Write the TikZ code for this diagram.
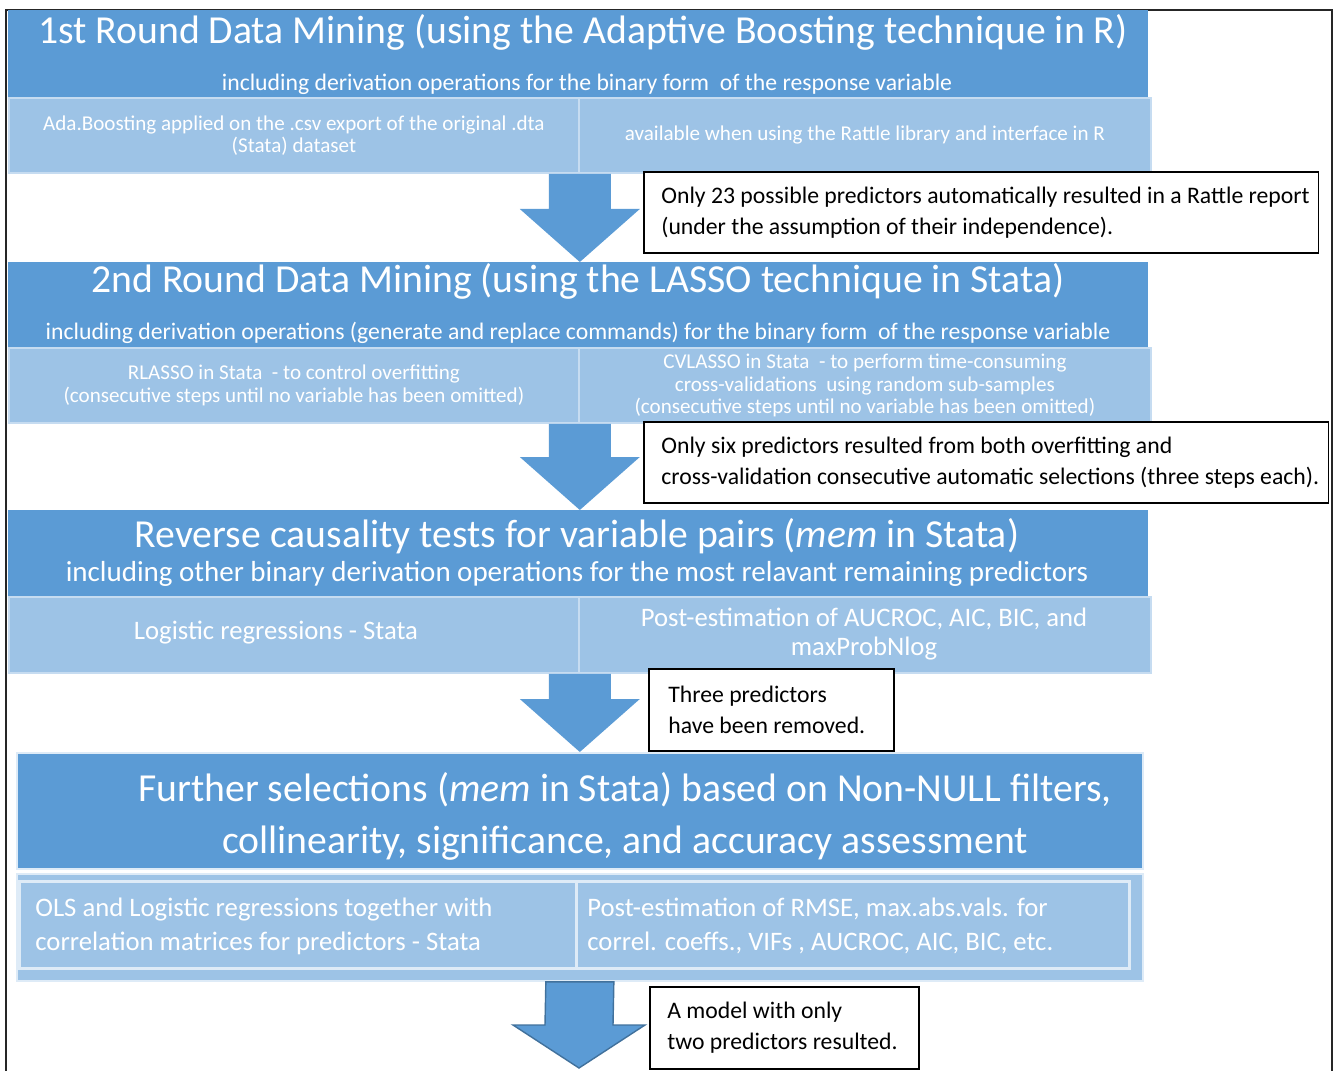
\documentclass[tikz,border=0pt]{standalone}
\usepackage{fontspec}
\setmainfont{Carlito}
\usepackage{xcolor}
\usetikzlibrary{
		calc,
		positioning
	}
\definecolor{headblue}{HTML}{5B9BD5}
\definecolor{rowblue}{HTML}{9DC3E6}
\definecolor{rowline}{HTML}{C6DCF1}
\definecolor{paleline}{HTML}{DEEBF7}
\definecolor{arrowline}{HTML}{41719C}
\tikzset{
		>=stealth,
		headbox/.style={fill=headblue,anchor=north west,inner sep=0pt},
		rowbox/.style={fill=rowblue,draw=rowline,line width=1.1pt,anchor=north west,inner sep=0pt},
		notebox/.style={fill=white,draw=black,line width=0.9pt,anchor=north west,inner sep=0pt},
		titletext/.style={text=white,inner sep=0pt,align=center,font=\fontsize{22.6}{29.5}\selectfont},
		subtext/.style={text=white,inner sep=0pt,font=\fontsize{13.5}{15}\selectfont},
		celltext/.style={text=white,inner sep=0pt,align=center,font=\fontsize{12}{12.8}\selectfont},
		bigcell/.style={text=white,inner sep=0pt,align=center,font=\fontsize{15.2}{17}\selectfont},
		notetext/.style={inner sep=0pt,align=left,font=\fontsize{13.5}{17.6}\selectfont}
	}

\begin{document}
\begin{tikzpicture}[x=0.02cm,y=-0.02cm]
          \useasboundingbox (0,0) rectangle (1335,1071);

          % outer frame, open at the bottom
          \draw[line width=1.1pt,black!85] (6,1080) -- (6,10) -- (1332,10) -- (1332,1080);

          % first round: AdaBoost in R
          \node[headbox,minimum width=22.8cm,minimum height=1.74cm] (head1) at (8,10) {};
          \node[titletext] (title1) at (583,32) {1st Round Data Mining (using the Adaptive Boosting technique in R)};
          \node[subtext] (sub1) at (587,84) {including derivation operations for the binary form\ \ of the response variable};
          \node[rowbox,minimum width=11.4cm,minimum height=1.5cm] (ada) at (8,97) {};
          \node[rowbox,minimum width=11.44cm,minimum height=1.5cm] (rattle) at (578,97) {};
          \node[celltext] (adatext) at (ada.center) {Ada.Boosting\ applied on the .csv export\ of the original\ .dta\\(Stata) dataset};
          \node[celltext] (rattletext) at (rattle.center) {available when\ using\ the Rattle library and interface in R};

          % second round: LASSO in Stata
          \node[headbox,minimum width=22.8cm,minimum height=1.7cm] (head2) at (8,262) {};
          \node[titletext] (title2) at (578,281) {2nd Round Data Mining (using the LASSO technique in Stata)};
          \node[subtext] (sub2) at (578,333) {including derivation operations (generate and replace commands) for the binary form\ \ of the response variable};
          \node[rowbox,minimum width=11.4cm,minimum height=1.5cm] (rlasso) at (8,347) {};
          \node[rowbox,minimum width=11.44cm,minimum height=1.5cm] (cvlasso) at (578,347) {};
          \node[celltext,font=\fontsize{12}{13}\selectfont] (rlassotext) at (rlasso.center) {RLASSO in Stata\ \ - to control\ overfitting\\(consecutive\ steps\ until no variable has been omitted)};
          \node[celltext,font=\fontsize{12}{13}\selectfont] (cvlassotext) at (cvlasso.center) {CVLASSO\ in Stata\ \ - to perform\ time-consuming\\cross-validations\ \ using\ random\ sub-samples\\(consecutive\ steps until no variable has been omitted)};

          % reverse causality
          \node[headbox,minimum width=22.8cm,minimum height=1.72cm] (head3) at (8,510) {};
          \node[titletext] (title3) at (577,536) {Reverse causality tests for variable pairs (\textit{mem} in Stata)};
          \node[subtext,font=\fontsize{16.5}{18}\selectfont] (sub3) at (577,574) {including other binary derivation operations for the most relavant remaining predictors};
          \node[rowbox,minimum width=11.4cm,minimum height=1.52cm] (logit) at (8,596) {};
          \node[rowbox,minimum width=11.44cm,minimum height=1.52cm] (postest) at (578,596) {};
          \node[bigcell] (logittext) at (276,633) {Logistic regressions - Stata};
          \node[bigcell] (postesttext) at (864,634) {Post-estimation of AUCROC, AIC, BIC, and\\maxProbNlog};

          % further selections
          \node[headbox,draw=paleline,line width=1.2pt,minimum width=22.52cm,minimum height=2.32cm] (head4) at (16,752) {};
          \node[titletext] (title4) at (625,816) {Further selections (\textit{mem} in Stata) based on Non-NULL filters,\\collinearity, significance, and accuracy assessment};
          \node[rowbox,draw=paleline,minimum width=22.52cm,minimum height=2.14cm] (row4) at (16,873) {};
          \node[rowbox,draw=paleline,line width=1.6pt,minimum width=11.14cm,minimum height=1.74cm] (ols) at (18,880) {};
          \node[rowbox,draw=paleline,line width=1.6pt,minimum width=11.06cm,minimum height=1.74cm] (rmse) at (575,880) {};
          \node[bigcell,align=left,anchor=west,font=\fontsize{15.2}{19.3}\selectfont] (olstext) at (35,926) {OLS and Logistic regressions together with\\correlation matrices for predictors - Stata};
          \node[bigcell,align=left,anchor=west,font=\fontsize{15.2}{19.3}\selectfont] (rmsetext) at (587,926) {Post-estimation of RMSE, max.abs.vals. for\\correl. coeffs., VIFs , AUCROC, AIC, BIC, etc.};

          % block arrows between the stages
          \coordinate (top1) at (ada.south east);
          \coordinate (tip1) at (ada.south east |- head2.north);
          \coordinate (top2) at (rlasso.south east);
          \coordinate (tip2) at (rlasso.south east |- head3.north);
          \coordinate (top3) at (logit.south east);
          \coordinate (tip3) at (logit.south east |- head4.north);
          \coordinate (top4) at (row4.south);
          \coordinate (tip4) at (579,1068);

          \foreach \i in {1,2,3}{
            \fill[headblue] ($(top\i)+(-31,0)$) -- ($(top\i)+(31,0)$) -- ($(tip\i)+(31,-53)$)
              -- ($(tip\i)+(60,-53)$) -- (tip\i) -- ($(tip\i)+(-60,-53)$) -- ($(tip\i)+(-31,-53)$) -- cycle;
          }
          \filldraw[fill=headblue,draw=arrowline,line width=0.8pt] ($(top4)+(-34,0)$) -- ($(top4)+(34,0)$) -- ($(tip4)+(34,-43)$)
              -- ($(tip4)+(66,-43)$) -- (tip4) -- ($(tip4)+(-66,-43)$) -- ($(tip4)+(-34,-43)$) -- cycle;

          % notes beside the arrows
          \node[notebox,minimum width=13.5cm,minimum height=1.62cm] (note1) at (643,171) {};
          \node[notetext,right=0.36cm of note1.west,anchor=west] (note1text) {Only 23 possible predictors automatically resulted in a Rattle report\\(under the assumption of their independence).};
          \node[notebox,minimum width=13.7cm,minimum height=1.62cm] (note2) at (643,421) {};
          \node[notetext,right=0.36cm of note2.west,anchor=west] (note2text) {Only six predictors resulted from\ both overfitting and\\cross-validation consecutive automatic selections (three steps each).};
          \node[notebox,minimum width=4.9cm,minimum height=1.64cm] (note3) at (648,668) {};
          \node[notetext,right=0.4cm of note3.west,anchor=west] (note3text) {Three\ predictors\\have been removed.};
          \node[notebox,minimum width=5.38cm,minimum height=1.64cm] (note4) at (649,986) {};
          \node[notetext,right=0.36cm of note4.west,anchor=west] (note4text) {A model with only\\two\ predictors resulted.};

          \end{tikzpicture}
\end{document}
